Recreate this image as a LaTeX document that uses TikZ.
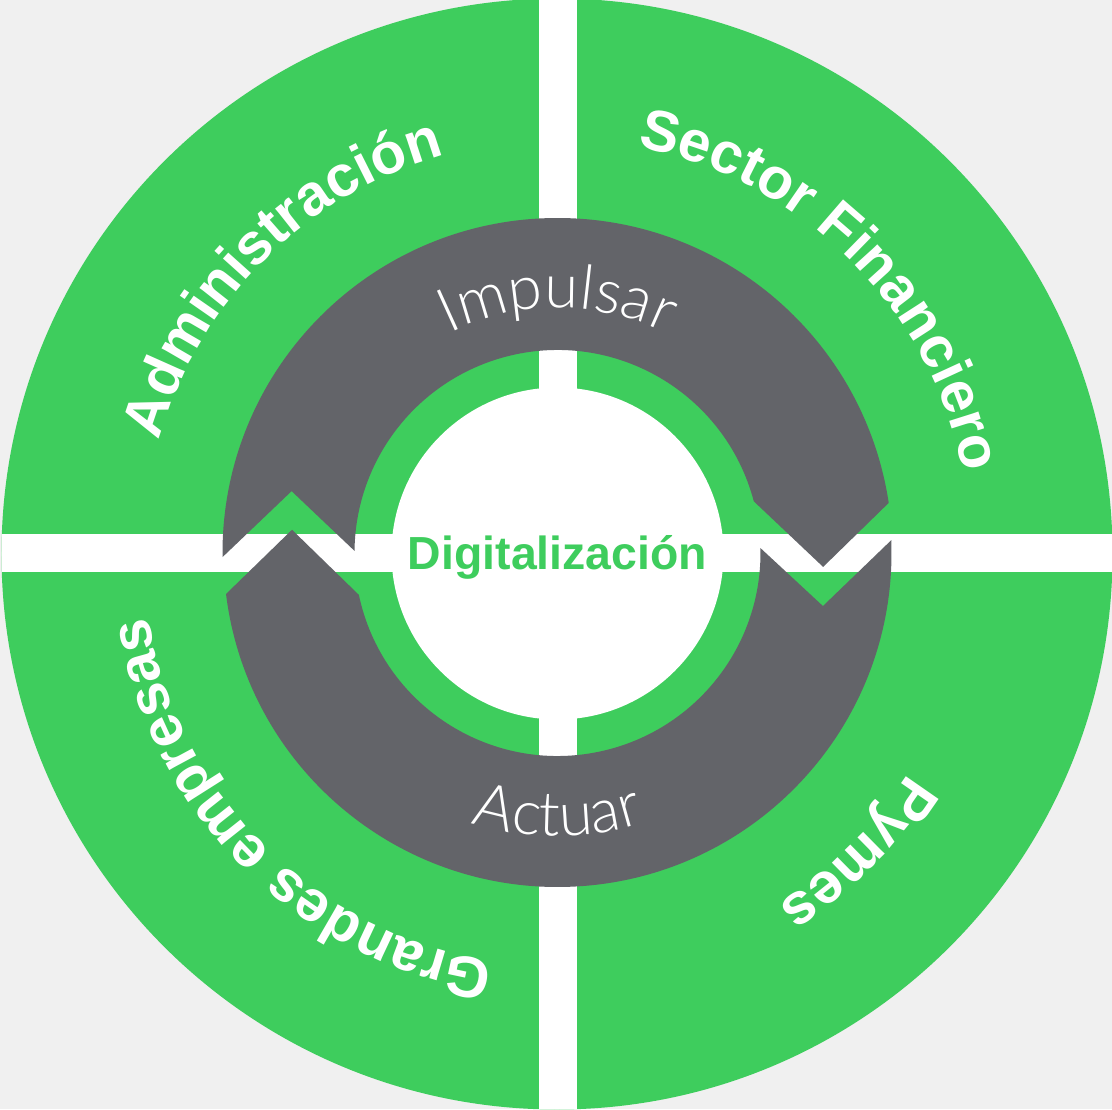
\documentclass[tikz,border=0pt]{standalone}
\usepackage{fontspec}
\setmainfont{Liberation Sans}
\IfFontExistsTF{Lato Light}{\newfontfamily\thinfont{Lato Light}}{\newfontfamily\thinfont{Liberation Sans}}
\usepackage{tikz}
\usetikzlibrary{decorations.text}
\definecolor{ringgreen}{HTML}{3ECD5D}
\definecolor{arrowgray}{HTML}{636469}
\definecolor{paper}{HTML}{F0F0F0}
\newcommand{\ringfont}{\bfseries\fontsize{16.5}{18}\selectfont}
\newcommand{\loopfont}{\thinfont\fontsize{17.5}{19}\selectfont}

\begin{document}
\begin{tikzpicture}[
  ringlabel/.style={decorate, decoration={text along path, text align=center, text color=white, text={|\ringfont|#1}}},
  looplabel/.style={decorate, decoration={text along path, text align=center, text color=white, text={|\loopfont|#1}}},
  arrowband/.style={fill=arrowgray}
]
  \fill[paper] (-5.575,-5.56) rectangle (5.545,5.53);
  \useasboundingbox (-5.575,-5.56) rectangle (5.545,5.53);
  \fill[ringgreen] (-0.005,-0.01) circle (5.555);
  \begin{scope}
    \clip (-0.005,-0.01) circle (5.555);
    \fill[white] (-0.185,-5.6) rectangle (0.195,5.6);
    \fill[white] (-5.6,-0.19) rectangle (5.6,0.19);
  \end{scope}
  \fill[arrowband] (180.7:3.35) arc[start angle=180.7, end angle=8.6, radius=3.35]
     -- (-3:2.66) -- (14.75:2.03) arc[start angle=14.75, end angle=179.4, radius=2.03]
     -- (166.9:2.73) -- cycle;
  \fill[arrowband] (2.2:3.34) arc[start angle=2.2, end angle=-172.95, radius=3.34]
     -- (175:2.665) -- (191.9:2.03) arc[start angle=191.9, end angle=361.4, radius=2.03]
     -- (-11.3:2.707) -- cycle;
  \fill[white] (0,-0.005) circle (1.66);
  \node[text=ringgreen, font=\bfseries\fontsize{13.2}{15}\selectfont, anchor=base] (core) at (0,-0.17) {Digitalización};
  \path[ringlabel=Administración] (225:4.14) arc[start angle=225, end angle=45, radius=4.14];
  \path[ringlabel=Sector Financiero] (135:4.14) arc[start angle=135, end angle=-45, radius=4.14];
  \path[ringlabel=Grandes empresas] (315:4.14) arc[start angle=315, end angle=135, radius=4.14];
  \path[ringlabel=Pymes] (45:4.14) arc[start angle=45, end angle=-135, radius=4.14];
  \path[looplabel=Impulsar] (150:2.45) arc[start angle=150, end angle=30, radius=2.45];
  \path[looplabel=Actuar] (210:2.83) arc[start angle=210, end angle=330, radius=2.83];
\end{tikzpicture}
\end{document}
